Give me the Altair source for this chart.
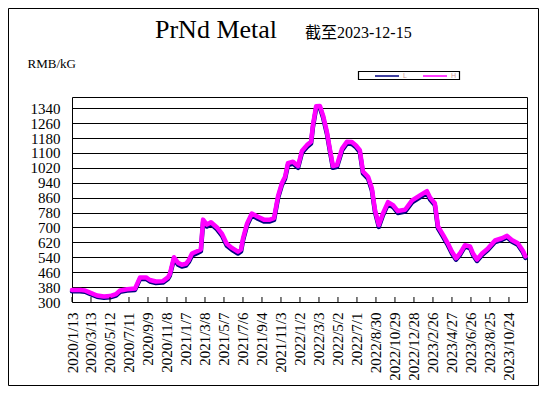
import altair as alt
import pandas as pd

dates = [
    "2020-01-13", "2020-02-07", "2020-02-23", "2020-03-10", "2020-04-01", "2020-04-23",
    "2020-05-12", "2020-05-31", "2020-06-13", "2020-07-05", "2020-07-30", "2020-08-15",
    "2020-09-03", "2020-09-15", "2020-10-04", "2020-10-26", "2020-11-11", "2020-11-17",
    "2020-11-30", "2020-12-13", "2020-12-25", "2021-01-07", "2021-01-16", "2021-01-26",
    "2021-02-11", "2021-02-23", "2021-03-02", "2021-03-14", "2021-03-27", "2021-04-15",
    "2021-05-01", "2021-05-16", "2021-06-01", "2021-06-20", "2021-06-30", "2021-07-06",
    "2021-07-19", "2021-08-03", "2021-08-22", "2021-09-10", "2021-09-29", "2021-10-12",
    "2021-10-25", "2021-11-06", "2021-11-16", "2021-11-25", "2021-12-11", "2021-12-27",
    "2022-01-08", "2022-01-24", "2022-02-06", "2022-02-12", "2022-02-22", "2022-03-06",
    "2022-03-16", "2022-03-28", "2022-04-07", "2022-04-16", "2022-04-29", "2022-05-15",
    "2022-05-30", "2022-06-15", "2022-06-28", "2022-07-10", "2022-07-20", "2022-08-05",
    "2022-08-17", "2022-08-27", "2022-09-08", "2022-09-21", "2022-10-07", "2022-10-23",
    "2022-11-07", "2022-11-30", "2022-12-22", "2023-01-16", "2023-02-07", "2023-02-17",
    "2023-03-04", "2023-03-14", "2023-03-30", "2023-04-14", "2023-04-27", "2023-05-10",
    "2023-05-22", "2023-06-07", "2023-06-23", "2023-07-02", "2023-07-15", "2023-07-31",
    "2023-08-19", "2023-09-10", "2023-10-02", "2023-10-18", "2023-11-02", "2023-11-21",
    "2023-12-07", "2023-12-15",
]
high = [
    365, 365, 362, 350, 335, 330, 332, 342, 362, 368, 372, 432,
    432, 418, 410, 412, 432, 450, 540, 510, 500, 505, 525, 560,
    572, 582, 742, 715, 728, 700, 665, 612, 590, 570, 582, 640,
    722, 775, 757, 742, 742, 750, 870, 938, 972, 1045, 1053, 1030,
    1110, 1142, 1160, 1250, 1350, 1352, 1300, 1213, 1115, 1030, 1035, 1124,
    1160, 1158, 1140, 1115, 1000, 972, 910, 793, 713, 775, 836, 820,
    788, 795, 845, 872, 895, 860, 830, 705, 660, 615, 570, 535,
    560, 605, 598, 562, 528, 560, 588, 630, 642, 655, 633, 615,
    575, 545,
]
low = [
    358, 358, 355, 343, 328, 323, 325, 335, 355, 361, 365, 424,
    424, 410, 402, 404, 424, 442, 530, 500, 490, 495, 515, 550,
    562, 572, 730, 705, 718, 690, 655, 602, 580, 560, 572, 630,
    712, 765, 747, 732, 732, 740, 860, 928, 962, 1035, 1043, 1020,
    1100, 1132, 1150, 1240, 1340, 1342, 1290, 1203, 1105, 1020, 1025, 1114,
    1150, 1148, 1130, 1105, 990, 962, 900, 783, 703, 765, 826, 810,
    778, 785, 835, 862, 885, 850, 820, 695, 650, 605, 560, 527,
    552, 597, 590, 554, 520, 552, 580, 622, 634, 647, 625, 607,
    567, 537,
]
tick_dates = [
    "2020-01-13", "2020-03-13", "2020-05-12", "2020-07-11", "2020-09-09", "2020-11-08",
    "2021-01-07", "2021-03-08", "2021-05-07", "2021-07-06", "2021-09-04", "2021-11-03",
    "2022-01-02", "2022-03-03", "2022-05-02", "2022-07-01", "2022-08-30", "2022-10-29",
    "2022-12-28", "2023-02-26", "2023-04-27", "2023-06-26", "2023-08-25", "2023-10-24",
]
y_ticks = [300, 380, 460, 540, 620, 700, 780, 860, 940, 1020, 1100, 1180, 1260, 1340]
series = ["L", "H"]
series_colors = ["#000080", "#FF00FF"]

df = pd.concat([
    pd.DataFrame({"date": dates, "value": low, "series": "L"}),
    pd.DataFrame({"date": dates, "value": high, "series": "H"}),
], ignore_index=True)
tick_df = pd.DataFrame({"tick": tick_dates})

W, H = 455, 205
SERIF = "Liberation Serif"


def dt(s):
    y, m, d = (int(p) for p in s.split("-"))
    return alt.DateTime(year=y, month=m, date=d, utc=True)


x_scale = alt.Scale(type="utc", domain=[dt("2020-01-13"), dt("2023-12-20")])
x_axis = alt.Axis(
    values=[dt(s) for s in tick_dates],
    labelExpr="utcFormat(datum.value, '%Y/%-m/%-d')",
    labelAngle=270, labelAlign="right", labelBaseline="middle",
    labelPadding=10, ticks=False, domain=False, grid=False, title=None,
    labelOverlap=False, labelBound=False, labelFlush=False,
)
y_scale = alt.Scale(domain=[300, 1400], nice=False, zero=False)
y_axis = alt.Axis(
    values=y_ticks, format="d", grid=True, ticks=False, domain=False, labelPadding=12,
    labelOverlap=False, labelFlush=False, labelBound=False,
    title="RMB/kG", titleAngle=0, titleX=-45, titleY=-30, titleAlign="left",
    titleBaseline="alphabetic", titleFont=SERIF, titleFontSize=13,
    titleFontWeight="normal", titleColor="black",
)
color_scale = alt.Scale(domain=series, range=series_colors)
legend = alt.Legend(
    orient="none", legendX=302, legendY=-34, direction="horizontal", title=None,
    symbolType="stroke", symbolSize=576, symbolStrokeWidth=1.5,
    labelFontSize=7, labelColor="#d09a9a", labelOffset=3, columnPadding=13, padding=0,
)


def series_line(name):
    return alt.Chart(df).transform_filter(alt.datum.series == name).mark_line(
        strokeWidth=4.5, strokeJoin="round", strokeCap="round"
    ).encode(
        x=alt.X("date:T", scale=x_scale, axis=x_axis),
        y=alt.Y("value:Q", scale=y_scale, axis=y_axis),
        color=alt.Color("series:N", scale=color_scale, legend=legend),
    )


line_l = series_line("L")
line_h = series_line("H")
ticks = alt.Chart(tick_df).mark_rule(color="black", strokeWidth=1).encode(
    x=alt.X("tick:T", scale=x_scale, axis=x_axis),
    y=alt.value(H), y2=alt.value(H - 5),
)

one = pd.DataFrame({"a": [0]})
outer = alt.Chart(one).mark_rect(filled=False, stroke="black", strokeWidth=1).encode(
    x=alt.value(-63.5), x2=alt.value(466.5), y=alt.value(-88.5), y2=alt.value(288.5)
)
legend_box = alt.Chart(one).mark_rect(filled=False, stroke="black", strokeWidth=1.2).encode(
    x=alt.value(286.5), x2=alt.value(387.5), y=alt.value(-25.5), y2=alt.value(-17.5)
)
title = alt.Chart(pd.DataFrame({"t": ["PrNd Metal"]})).mark_text(
    font=SERIF, fontSize=26, align="center", baseline="alphabetic", color="black"
).encode(text="t:N", x=alt.value(144), y=alt.value(-59))
subtitle = alt.Chart(pd.DataFrame({"t": ["截至2023-12-15"]})).mark_text(
    font="Liberation Serif, 'Noto Sans CJK SC'", fontSize=16, align="left",
    baseline="alphabetic", color="black"
).encode(text="t:N", x=alt.value(233), y=alt.value(-59))

chart = alt.layer(outer, line_l, line_h, ticks, legend_box, title, subtitle).properties(
    width=W, height=H,
    padding={"left": 64, "top": 89, "right": 12, "bottom": 84},
    autosize=alt.AutoSizeParams(type="none"),
    background="white",
).configure_view(stroke="black", strokeWidth=1).configure_axis(
    labelFont=SERIF, labelFontSize=15, labelColor="black",
    gridColor="black", gridOpacity=1, gridWidth=1,
)

chart.save("out.html", embed_options={"renderer": "svg", "actions": False})
